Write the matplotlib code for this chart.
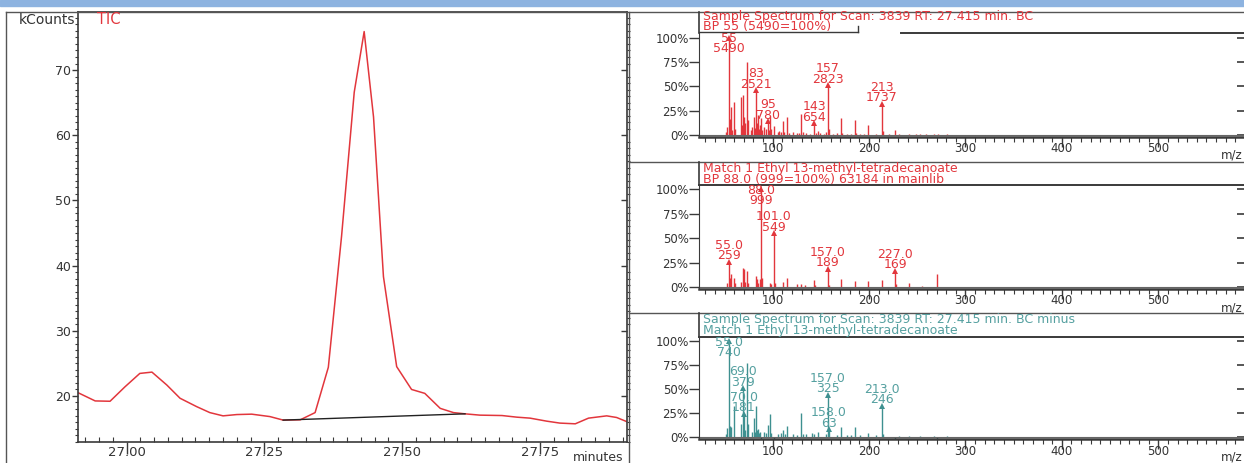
import matplotlib
matplotlib.use('Agg')
import matplotlib.pyplot as plt
from matplotlib.lines import Line2D
from matplotlib.patches import Rectangle
from matplotlib.ticker import MultipleLocator

plt.rcParams['font.family'] = ['DejaVu Sans']

# ---------------- data ----------------
tic_time = [26.912, 26.943, 26.970, 26.997, 27.024, 27.046, 27.073, 27.097, 27.127,
            27.151, 27.175, 27.200, 27.227, 27.260, 27.284, 27.315, 27.342, 27.366,
            27.390, 27.413, 27.431, 27.448, 27.466, 27.490, 27.517, 27.541, 27.569,
            27.593, 27.614, 27.641, 27.681, 27.708, 27.732, 27.762, 27.786, 27.814,
            27.838, 27.871, 27.889, 27.907]
tic_kcounts = [20.5, 19.24, 19.19, 21.4, 23.46, 23.66, 21.68, 19.65, 18.37,
               17.45, 16.95, 17.15, 17.21, 16.84, 16.30, 16.34, 17.45, 24.4,
               44.5, 66.6, 75.9, 62.8, 38.3, 24.5, 21.0, 20.4, 18.1,
               17.45, 17.26, 17.06, 17.0, 16.75, 16.6, 16.14, 15.84, 15.73,
               16.6, 16.95, 16.7, 16.08]
baseline_time = [27.284, 27.614]
baseline_kcounts = [16.30, 17.26]
tic_yticks = [20, 30, 40, 50, 60, 70]
tic_xticks = [27.00, 27.25, 27.50, 27.75]
tic_xlabels = ['27.00', '27.25', '27.50', '27.75']

sample_mz = [51, 53, 55, 56, 57, 58, 60, 61, 67, 68, 69, 70, 71, 73, 74, 77, 79, 81, 82,
             83, 84, 85, 86, 87, 88, 89, 91, 93, 95, 96, 97, 98, 101, 105, 107, 109, 111,
             112, 115, 117, 121, 125, 127, 129, 131, 135, 139, 143, 145, 147, 149, 153,
             155, 157, 158, 163, 167, 171, 172, 177, 181, 185, 186, 191, 195, 199, 207,
             213, 214, 221, 227, 231, 241, 249, 253, 259, 267, 271, 281]
sample_pct = [3, 8, 100, 16, 29, 5, 34, 6, 39, 10, 41, 18, 12, 75, 15, 5, 8, 19, 7,
              46, 12, 21, 6, 10, 17, 5, 8, 6, 14, 5, 20, 6, 9, 3, 4, 3, 14,
              3, 18, 2, 3, 2, 2, 22, 3, 2, 1.5, 12, 2, 4, 2, 1.5,
              3, 51, 6, 1.5, 2, 17, 2, 1.5, 1.5, 15, 2, 1.5, 1, 10, 1.5,
              32, 4, 1, 5, 1, 1.5, 1, 1, 1, 1, 1.5, 1.5]
sample_labels = [(55, '55', '5490'), (83, '83', '2521'), (95, '95', '780'),
                 (143, '143', '654'), (157, '157', '2823'), (213, '213', '1737')]

library_mz = [53, 55, 56, 57, 60, 61, 67, 69, 70, 71, 73, 74, 83, 84, 85, 87, 88, 89,
              97, 98, 101, 102, 111, 115, 125, 129, 133, 143, 144, 157, 158, 171, 185,
              199, 213, 227, 228, 241, 255, 270]
library_pct = [4, 25.9, 10, 14, 9, 4, 5, 20, 19, 5, 17, 4, 12, 8, 4, 8, 100, 10,
               4, 3, 55, 4, 5, 9, 3, 3, 2, 7, 2, 18.9, 2, 8, 6,
               6, 7, 16.9, 3, 4, 1, 14]
library_labels = [(55, '55.0', '259'), (88, '88.0', '999'), (101, '101.0', '549'),
                  (157, '157.0', '189'), (227, '227.0', '169')]

diff_mz = [51, 53, 55, 56, 57, 60, 67, 69, 70, 71, 73, 74, 79, 81, 82, 83, 84, 85, 86,
           87, 88, 91, 93, 95, 97, 98, 101, 105, 109, 111, 113, 115, 121, 125, 129,
           131, 135, 141, 143, 147, 155, 157, 158, 167, 171, 177, 181, 185, 191, 199,
           207, 213, 214, 227, 231, 241, 253, 267, 270, 281]
diff_pct = [3, 10, 100, 12, 11, 32, 14, 51, 24.5, 8, 77, 14, 6, 20, 5, 32, 8, 9, 4,
            6, -3, 5, 4, 13, 24, 4, -2, 3, 4, 8, 3, 12, 3, 2, 25,
            3, 3, 4, 3, 5, 3, 44, 8.5, 2, 11, 2, 2, 11, 2, 4,
            2, 33, 3, -2, 1, 1, 1, 1, -2, 1.5]
diff_labels = [(55, '55.0', '740'), (69, '69.0', '379'), (70, '70.0', '181'),
               (157, '157.0', '325'), (158, '158.0', '63'), (213, '213.0', '246')]

pct_ticks = [0, 25, 50, 75, 100]
pct_labels = ['0%', '25%', '50%', '75%', '100%']
mz_ticks = [100, 200, 300, 400, 500]

# ---------------- figure ----------------
W, H = 1244, 463
fig = plt.figure(figsize=(W / 100, H / 100), dpi=100)
RED = '#E2363C'
TEAL = '#3E9090'
TEAL_T = '#55A0A0'
AX = '#3a3a3a'
FR = '#555555'


def rect(x0, y0, x1, y1):
    return [x0 / W, 1 - y1 / H, (x1 - x0) / W, (y1 - y0) / H]


def fline(x0, y0, x1, y1, color=FR, lw=1.0):
    fig.add_artist(Line2D([x0 / W, x1 / W], [1 - y0 / H, 1 - y1 / H],
                          transform=fig.transFigure, color=color, lw=lw))


fig.patches.append(Rectangle((0, 1 - 6 / H), 1, 6 / H, transform=fig.transFigure,
                             color='#8DB3E0', zorder=0))

# frames
fline(6, 12, 1244, 12)
fline(6, 12, 6, 463)
fline(629, 12, 629, 463)
fline(629, 162, 1244, 162)
fline(629, 313, 1244, 313)

# ---------------- TIC panel ----------------
axL = fig.add_axes(rect(78.3, 12, 626.7, 442))
axL.plot(tic_time, tic_kcounts, color=RED, lw=1.1)
axL.plot(baseline_time, baseline_kcounts, color='#222222', lw=1.0)
axL.set_xlim(26.9124, 27.9073)
axL.set_ylim(12.94, 78.9)
axL.set_yticks(tic_yticks)
axL.set_yticklabels([str(v) for v in tic_yticks])
axL.yaxis.set_minor_locator(MultipleLocator(1))
axL.set_xticks(tic_xticks)
axL.set_xticklabels(tic_xlabels)
axL.xaxis.set_minor_locator(MultipleLocator(0.025))
axL.tick_params(axis='y', which='major', direction='out', length=4.5, width=1,
                color=AX, labelsize=9, labelcolor='#333333', pad=0.5)
axL.tick_params(axis='y', which='minor', direction='out', length=2.5, width=0.8, color=AX)
axL.tick_params(axis='x', which='major', direction='out', length=8.5, width=1,
                color=AX, labelsize=9.5, labelcolor='#333333', pad=-5.5)
axL.tick_params(axis='x', which='minor', direction='in', length=3.5, width=0.8, color=AX)
for s in axL.spines.values():
    s.set_color(AX)
    s.set_linewidth(1.2)
secL = axL.secondary_yaxis('right')
secL.set_ticks(tic_yticks)
secL.yaxis.set_minor_locator(MultipleLocator(1))
secL.tick_params(which='major', direction='in', length=4.5, width=1, color=AX, labelright=False)
secL.tick_params(which='minor', direction='out', length=2.5, width=0.8, color=AX)
secL.spines['right'].set_visible(False)

fig.text(75 / W, 1 - 20 / H, 'kCounts', ha='right', va='center', fontsize=10, color='#333333')
fig.text(97 / W, 1 - 20 / H, 'TIC', ha='left', va='center', fontsize=10.5, color=RED)
fig.text(623 / W, 1 - 457.5 / H, 'minutes', ha='right', va='center', fontsize=9, color='#333333')

# ---------------- spectra panels ----------------
panels = [
    dict(mz=sample_mz, pct=sample_pct, labels=sample_labels, color=RED, tcolor=RED,
         frame_top=12, top=33, bottom=136.5, ylim=(-1.54, 104.8),
         title=['Sample Spectrum for Scan: 3839 RT: 27.415 min. BC', 'BP 55 (5490=100%)'],
         title_y=[16.5, 26.5], mzlabel_y=155.5, full_top=False),
    dict(mz=library_mz, pct=library_pct, labels=library_labels, color=RED, tcolor=RED,
         frame_top=162, top=185, bottom=288.8, ylim=(-1.53, 104.4),
         title=['Match 1 Ethyl 13-methyl-tetradecanoate', 'BP 88.0 (999=100%) 63184 in mainlib'],
         title_y=[168.5, 179.0], mzlabel_y=308, full_top=True),
    dict(mz=diff_mz, pct=diff_pct, labels=diff_labels, color=TEAL, tcolor=TEAL_T,
         frame_top=313, top=337, bottom=439, ylim=(-1.77, 104.2),
         title=['Sample Spectrum for Scan: 3839 RT: 27.415 min. BC minus',
                'Match 1 Ethyl 13-methyl-tetradecanoate'],
         title_y=[320, 330.5], mzlabel_y=456.5, full_top=True),
]

for p in panels:
    ax = fig.add_axes(rect(699, p['top'], 1244, p['bottom']))
    ax.vlines(p['mz'], 0, p['pct'], color=p['color'], lw=1.0)
    ax.set_xlim(23.5, 589)
    ax.set_ylim(*p['ylim'])
    ax.set_yticks(pct_ticks)
    ax.set_yticklabels(pct_labels)
    ax.set_xticks(mz_ticks)
    ax.set_xticklabels([str(v) for v in mz_ticks])
    ax.xaxis.set_minor_locator(MultipleLocator(10))
    ax.tick_params(axis='y', direction='out', length=7.5, width=1, color=AX,
                   labelsize=8.5, labelcolor='#333333', pad=0)
    ax.tick_params(axis='x', which='major', direction='out', length=7, width=1, color=AX,
                   labelsize=8.5, labelcolor='#333333', pad=-3)
    ax.tick_params(axis='x', which='minor', direction='out', length=3.5, width=0.8, color=AX)
    ax.spines['right'].set_visible(False)
    ax.spines['top'].set_visible(p['full_top'])
    ax.spines['top'].set_color(AX)
    ax.spines['left'].set_color(AX)
    ax.spines['bottom'].set_color(AX)
    ax.spines['bottom'].set_linewidth(1.8)
    ax.spines['top'].set_linewidth(1.4)
    ax.axhline(0, color='#666666', lw=0.8)
    sec = ax.secondary_yaxis('right')
    sec.set_ticks(pct_ticks)
    sec.tick_params(direction='in', length=5, width=1.2, color=AX, labelright=False)
    sec.spines['right'].set_visible(False)

    top = p['ylim'][1]
    for mz, lab_mz, lab_cnt in p['labels']:
        v = p['pct'][p['mz'].index(mz)]
        ax.plot([mz], [v], marker='^', ms=4, color=p['color'], mew=0)
        y_cnt = v + 6.2
        y_mz = v + 17.0
        if y_mz > top - 5.5:
            shift = y_mz - (top - 5.5)
            y_cnt -= shift
            y_mz -= shift
        ax.text(mz, y_cnt, lab_cnt, ha='center', va='center', fontsize=9, color=p['tcolor'])
        ax.text(mz, y_mz, lab_mz, ha='center', va='center', fontsize=9, color=p['tcolor'])

    for t, ty in zip(p['title'], p['title_y']):
        fig.text(703 / W, 1 - ty / H, t, ha='left', va='center', fontsize=9, color=p['tcolor'])
    fig.text(1243 / W, 1 - p['mzlabel_y'] / H, 'm/z', ha='right', va='center',
             fontsize=8.5, color='#333333')
    fline(699, p['frame_top'], 699, p['top'], color=AX, lw=1.2)
    if not p['full_top']:
        fline(901, p['top'], 1244, p['top'], color=AX, lw=1.4)
        fline(699, 31.5, 858, 31.5, color=AX, lw=1.0)
        fline(858, 25.5, 858, 31.5, color=AX, lw=1.0)

fig.savefig('out.png', dpi=100)
